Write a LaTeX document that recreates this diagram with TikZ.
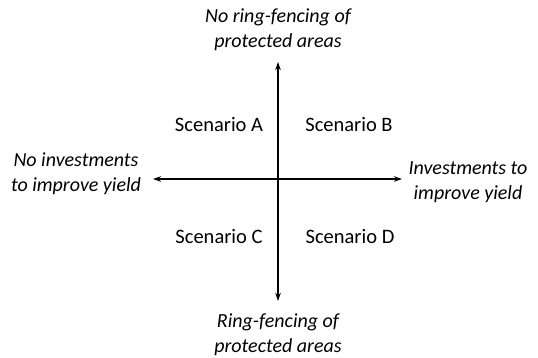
\documentclass[tikz,border=0pt]{standalone}
\usepackage{fontspec}
\setmainfont{Carlito}
\usetikzlibrary{arrows.meta}

\begin{document}
\begin{tikzpicture}[x=1pt, y=-1pt,
		axis/.style={-{Stealth[length=8pt, width=5.5pt]}, line width=1.2pt},
		pole/.style={align=center, font=\fontsize{20}{25}\selectfont\itshape},
		scen/.style={font=\fontsize{20.5}{25}\selectfont}]
	\useasboundingbox (0,0) rectangle (538,357);
	
	\coordinate (top) at (278,62);
	\coordinate (bot) at (278,301);
	\coordinate (lft) at (153,179);
	\coordinate (rgt) at (402,179);
	\coordinate (mid) at (278,179);
	
	\node[pole] (noring) at (278,30) {No ring-fencing of\\protected areas};
	\node[pole] (ring) at (278,335) {Ring-fencing of\\protected areas};
	\node[pole] (noinv) at (76,174) {No investments\\to improve yield};
	\node[pole] (inv) at (468,182) {Investments to\\improve yield};
	
	\node[scen] (sa) at (219,125) {Scenario A};
	\node[scen] (sb) at (349,125) {Scenario B};
	\node[scen] (sc) at (219,237) {Scenario C};
	\node[scen] (sd) at (350,237) {Scenario D};
	
	\draw[axis] (mid) -- (top);
	\draw[axis] (mid) -- (bot);
	\draw[axis] (mid) -- (lft);
	\draw[axis] (mid) -- (rgt);
\end{tikzpicture}
\end{document}
